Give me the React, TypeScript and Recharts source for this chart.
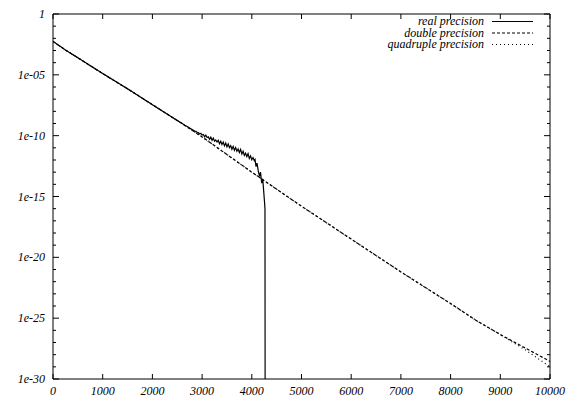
import { LineChart, Line, XAxis, YAxis, Legend } from "recharts";

// common sampling for the smooth curves
const xGrid = [0, 250, 500, 1000, 1500, 2000, 2500, 3000, 3500, 4000, 4500, 5000, 5500, 6000, 6500, 7000, 7500, 8000, 8500, 9000, 9500, 10000];

// log10 of the error
const doubleExp = [-2.25, -2.95, -3.6, -4.9, -6.15, -7.45, -8.75, -10.1, -11.55, -13.0, -14.4, -15.8, -17.15, -18.5, -19.85, -21.2, -22.5, -23.8, -25.15, -26.35, -27.45, -28.55];
const quadExp = [-2.25, -2.95, -3.6, -4.9, -6.15, -7.45, -8.75, -10.1, -11.55, -13.0, -14.4, -15.8, -17.15, -18.5, -19.85, -21.2, -22.5, -23.8, -25.15, -26.35, -27.6, -29.0];

// real precision: follows the others, gets noisy, then collapses to zero
const realX = [
  0, 250, 500, 1000, 1500, 2000, 2500, 2600, 2650, 2700, 2750, 2800, 2825, 2850, 2875, 2900, 2925, 2950, 2975,
  3000, 3025, 3050, 3075, 3100, 3125, 3150, 3175, 3200, 3225, 3250, 3275, 3300, 3325, 3350, 3375, 3400, 3425, 3450, 3475,
  3500, 3525, 3550, 3575, 3600, 3625, 3650, 3675, 3700, 3725, 3750, 3775, 3800, 3825, 3850, 3875, 3900, 3925, 3950, 3975,
  4000, 4025, 4050, 4065, 4085, 4105, 4130, 4155, 4175, 4200, 4220, 4240, 4255, 4265, 4270,
];
const realExp = [
  -2.25, -2.95, -3.6, -4.9, -6.15, -7.45, -8.75, -9.0, -9.14, -9.25, -9.38, -9.5, -9.55, -9.62, -9.64, -9.72, -9.74, -9.86, -9.8,
  -9.95, -9.9, -10.1, -9.95, -10.15, -10.1, -10.3, -10.12, -10.38, -10.2, -10.45, -10.35, -10.52, -10.38, -10.66, -10.46, -10.72, -10.52, -10.84, -10.6,
  -10.92, -10.68, -10.98, -10.82, -11.12, -10.88, -11.2, -10.98, -11.28, -11.1, -11.38, -11.12, -11.5, -11.28, -11.62, -11.44, -11.72, -11.48, -11.88, -11.66,
  -11.98, -11.8, -12.05, -11.95, -12.55, -12.25, -12.9, -13.35, -13.0, -13.9, -13.55, -14.6, -15.4, -16.0, -40,
];

const xTicks = [0, 1000, 2000, 3000, 4000, 5000, 6000, 7000, 8000, 9000, 10000];
const yTickExps = [-30, -29, -28, -27, -26, -25, -24, -23, -22, -21, -20, -19, -18, -17, -16, -15, -14, -13, -12, -11, -10, -9, -8, -7, -6, -5, -4, -3, -2, -1, 0];
const yLabels: Record<number, string> = { "-30": "1e-30", "-25": "1e-25", "-20": "1e-20", "-15": "1e-15", "-10": "1e-10", "-5": "1e-05", "0": "1" };

const series = [
  { name: "real precision", dash: undefined as string | undefined },
  { name: "double precision", dash: "3 2" },
  { name: "quadruple precision", dash: "1 3" },
];

const toData = (xs: number[], es: number[]) => xs.map((x, i) => ({ x, v: Math.pow(10, es[i]) }));
const realData = toData(realX, realExp);
const doubleData = toData(xGrid, doubleExp);
const quadData = toData(xGrid, quadExp);
const yTicks = yTickExps.map((e) => Math.pow(10, e));

const FONT = "'Liberation Serif', 'Times New Roman', serif";
const INK = "#000";

const expOf = (v: number) => Math.round(Math.log10(v));

// eslint-disable-next-line @typescript-eslint/no-explicit-any
function LeftTick({ x, y, payload }: any) {
  const e = expOf(payload.value);
  const label = yLabels[e];
  return (
    <g>
      <line x1={x} y1={y} x2={x + (label ? 6 : 3)} y2={y} stroke={INK} />
      {label && (
        <text x={x - 8} y={y + 4} textAnchor="end" fontSize={12} fontStyle="italic" fontFamily={FONT} fill={INK}>
          {label}
        </text>
      )}
    </g>
  );
}

// eslint-disable-next-line @typescript-eslint/no-explicit-any
function RightTick({ x, y, payload }: any) {
  const e = expOf(payload.value);
  return <line x1={x} y1={y} x2={x - (yLabels[e] ? 6 : 3)} y2={y} stroke={INK} />;
}

// eslint-disable-next-line @typescript-eslint/no-explicit-any
function BottomTick({ x, y, payload }: any) {
  return (
    <g>
      <line x1={x} y1={y} x2={x} y2={y - 5} stroke={INK} />
      <text x={x} y={y + 16} textAnchor="middle" fontSize={12} fontStyle="italic" fontFamily={FONT} fill={INK}>
        {payload.value}
      </text>
    </g>
  );
}

// eslint-disable-next-line @typescript-eslint/no-explicit-any
function TopTick({ x, y }: any) {
  return <line x1={x} y1={y} x2={x} y2={y + 5} stroke={INK} />;
}

function KeyBox() {
  return (
    <svg width={570} height={60}>
      {series.map((s, i) => (
        <g key={s.name}>
          <text x={484} y={25 + i * 11.5} textAnchor="end" fontSize={12} fontStyle="italic" fontFamily={FONT} fill={INK}>
            {s.name}
          </text>
          <line x1={492} x2={533} y1={21.5 + i * 11.5} y2={21.5 + i * 11.5} stroke={INK} strokeWidth={1} strokeDasharray={s.dash} />
        </g>
      ))}
    </svg>
  );
}

export default function App() {
  return (
    <div style={{ position: "absolute", left: 0, top: 0, width: 570, height: 398, background: "#fff" }}>
      <LineChart width={570} height={398} margin={{ top: 13, right: 19, bottom: 0, left: 0 }}>
        <XAxis
          xAxisId="b"
          dataKey="x"
          type="number"
          domain={[0, 10000]}
          ticks={xTicks}
          interval={0}
          allowDataOverflow
          height={19}
          tickSize={0}
          tickMargin={0}
          tickLine={false}
          axisLine={{ stroke: INK }}
          tick={<BottomTick />}
        />
        <XAxis
          xAxisId="t"
          orientation="top"
          dataKey="x"
          type="number"
          domain={[0, 10000]}
          ticks={xTicks}
          interval={0}
          allowDataOverflow
          height={1}
          tickSize={0}
          tickMargin={0}
          tickLine={false}
          axisLine={{ stroke: INK }}
          tick={<TopTick />}
        />
        <YAxis
          yAxisId="l"
          type="number"
          scale="log"
          domain={[1e-30, 1]}
          ticks={yTicks}
          interval={0}
          allowDataOverflow
          width={53}
          tickSize={0}
          tickMargin={0}
          tickLine={false}
          axisLine={{ stroke: INK }}
          tick={<LeftTick />}
        />
        <YAxis
          yAxisId="r"
          orientation="right"
          type="number"
          scale="log"
          domain={[1e-30, 1]}
          ticks={yTicks}
          interval={0}
          allowDataOverflow
          width={1}
          tickSize={0}
          tickMargin={0}
          tickLine={false}
          axisLine={{ stroke: INK }}
          tick={<RightTick />}
        />
        <Legend
          layout="vertical"
          align="center"
          verticalAlign="middle"
          wrapperStyle={{ position: "absolute", left: 0, top: 0, width: 570, height: 60 }}
          content={() => <KeyBox />}
        />
        {/* mirror axes (top/right) are bound to a stroke-less copy so they get a scale */}
        <Line
          xAxisId="t"
          yAxisId="r"
          data={doubleData}
          dataKey="v"
          stroke="none"
          legendType="none"
          dot={false}
          activeDot={false}
          isAnimationActive={false}
        />
        <Line
          xAxisId="b"
          yAxisId="l"
          data={quadData}
          dataKey="v"
          name="quadruple precision"
          type="linear"
          stroke={INK}
          strokeWidth={1.2}
          strokeDasharray="1 3"
          dot={false}
          isAnimationActive={false}
        />
        <Line
          xAxisId="b"
          yAxisId="l"
          data={doubleData}
          dataKey="v"
          name="double precision"
          type="linear"
          stroke={INK}
          strokeWidth={1.2}
          strokeDasharray="3 2"
          dot={false}
          isAnimationActive={false}
        />
        <Line
          xAxisId="b"
          yAxisId="l"
          data={realData}
          dataKey="v"
          name="real precision"
          type="linear"
          stroke={INK}
          strokeWidth={1.2}
          dot={false}
          isAnimationActive={false}
        />
      </LineChart>
    </div>
  );
}
